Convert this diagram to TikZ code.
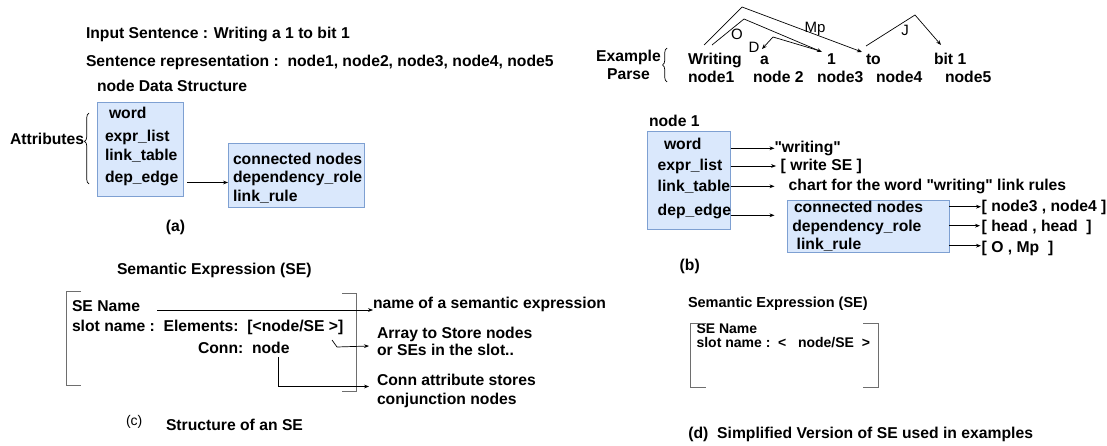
\documentclass[tikz,border=0pt]{standalone}
\usepackage{fontspec}
\setmainfont{Liberation Sans}[Ligatures=TeXOff]
\usetikzlibrary{arrows.meta,decorations.pathreplacing,calc}
\definecolor{boxfill}{HTML}{DAE8FC}
\definecolor{boxline}{HTML}{7EA0D2}
\definecolor{brk}{HTML}{6E6E6E}
\begin{document}
\begin{tikzpicture}[x=1pt,y=-1pt,
  txt/.style={inner sep=0pt, outer sep=0pt, anchor=base west, font=\fontsize{15.7}{18}\selectfont\bfseries},
  reg/.style={inner sep=0pt, outer sep=0pt, anchor=center, font=\fontsize{15}{18}\selectfont},
  box/.style={draw=boxline, fill=boxfill, line width=0.9pt, anchor=north west, inner sep=0pt, outer sep=0pt},
  arr/.style={line width=0.7pt, -{Stealth[length=5pt,width=3.8pt]}},
  brk/.style={draw=brk, line width=0.9pt},
  curly/.style={decorate, decoration={brace, amplitude=4.5pt, aspect=#1}, line width=0.7pt},
  small/.style={font=\fontsize{14}{16}\selectfont\bfseries},
]
\fill[white] (0,0) rectangle (1107,446);
\useasboundingbox (0,0) rectangle (1107,446);

% ---------- (a) node data structure ----------
\node[txt] (inSent) at (86,38.5) {Input Sentence : Writing a 1 to bit 1};
\node[txt] (repSent) at (86,66.5) {Sentence representation :\ \ node1, node2, node3, node4, node5};
\node[txt] (nds) at (97,92) {node Data Structure};

\node[box, minimum width=86pt, minimum height=94pt] (boxA) at (97,102) {};
\node[txt] (wordA) at (109,118.5) {word};
\node[txt] (exprA) at (105,142) {expr\_list};
\node[txt] (linkA) at (105,161) {link\_table};
\node[txt] (depA)  at (105,183) {dep\_edge};

\node[box, minimum width=136pt, minimum height=64pt] (boxA2) at (228,143) {};
\node[txt] (connA) at (233,165) {connected nodes};
\node[txt] (roleA) at (233,183) {dependency\_role};
\node[txt] (ruleA) at (233,201.5) {link\_rule};

\coordinate (aStart) at (187,182.5);
\draw[arr] (aStart) -- (boxA2.west |- aStart);

\node[txt] (attr) at (10,145) {Attributes};
\draw[curly=0.6] (89,184) -- (89,113);
\node[txt, anchor=base] (capA) at (175.5,232) {(a)};

% ---------- example parse ----------
\node[txt, anchor=base] (ex1) at (628.5,62) {Example};
\node[txt, anchor=base] (ex2) at (628.5,80) {Parse};
\draw[curly=0.5] (667,82) -- (667,48);

\node[txt] (wWriting) at (688,64.5) {Writing};
\node[txt] (wA)       at (760,64.5) {a};
\node[txt] (wOne)     at (827,64.5) {1};
\node[txt] (wTo)      at (866,64.5) {to};
\node[txt] (wBit)     at (934,64.5) {bit 1};
\node[txt] (n1) at (688,82.5) {node1};
\node[txt] (n2) at (753,82.5) {node 2};
\node[txt] (n3) at (817,82.5) {node3};
\node[txt] (n4) at (876,82.5) {node4};
\node[txt] (n5) at (945,82.5) {node5};

\coordinate (mpA) at (704,45);
\coordinate (mpT) at (862,52);
\draw[arr] (mpA) -- (742,7) -- (mpT);
\coordinate (oA) at (712,45);
\coordinate (oT) at (822,52);
\draw[arr] (oA) -- (744,19) -- (oT);
\coordinate (dA) at (820,51);
\coordinate (dT) at (762,49);
\draw[arr] (dA) -- (773,37) -- (dT);
\coordinate (jA) at (866,46);
\coordinate (jT) at (941,45);
\draw[arr] (jA) -- (915,15) -- (jT);
\node[reg] (lblO)  at (737,34) {O};
\node[reg] (lblD)  at (754,47) {D};
\node[reg] (lblMp) at (815,29) {Mp};
\node[reg] (lblJ)  at (905,30) {J};

% ---------- (b) node 1 ----------
\node[txt] (nodeOne) at (649,127) {node 1};
\node[box, minimum width=83.4pt, minimum height=97.6pt] (boxB) at (647.3,131.7) {};
\node[txt] (wordB) at (664,150) {word};
\node[txt] (exprB) at (657.7,171) {expr\_list};
\node[txt] (linkB) at (657.7,191.5) {link\_table};
\node[txt] (depB)  at (657.7,215.5) {dep\_edge};

\node[txt] (valWord) at (774.5,152.3) {"writing"};
\node[txt] (valExpr) at (780.7,171) {[ write SE ]};
\node[txt] (valLink) at (788.7,190.5) {chart for the word "writing" link rules};

\coordinate (bw) at (774.5,148.3);
\coordinate (be) at (776,166);
\coordinate (bl) at (774.5,186.3);
\coordinate (bd) at (774.5,215.3);
\draw[arr] (boxB.east |- bw) -- (bw);
\draw[arr] (boxB.east |- be) -- (be);
\draw[arr] (boxB.east |- bl) -- (bl);
\draw[arr] (boxB.east |- bd) -- (bd);

\node[box, minimum width=162pt, minimum height=52.7pt] (boxB2) at (787.3,200) {};
\node[txt] (connB) at (794,212.5) {connected nodes};
\node[txt] (roleB) at (792.3,232) {dependency\_role};
\node[txt] (ruleB) at (796.7,250) {link\_rule};

\node[txt] (valConn) at (981.7,212) {[ node3 , node4 ]};
\node[txt] (valRole) at (981.7,231.5) {[ head , head\ \ ]};
\node[txt] (valRule) at (981.7,252) {[ O , Mp\ \ ]};
\coordinate (rc) at (981,206.7);
\coordinate (rr) at (980,225.7);
\coordinate (ru) at (981,245.7);
\draw[arr] (boxB2.east |- rc) -- (rc);
\draw[arr] (boxB2.east |- rr) -- (rr);
\draw[arr] (boxB2.east |- ru) -- (ru);

\node[txt, anchor=base] (capB) at (689.7,270) {(b)};

% ---------- (c) structure of an SE ----------
\node[txt] (seC) at (117,274.5) {Semantic Expression (SE)};
\draw[brk] (81,291) -- (66,291) -- (66,385) -- (81,385);
\draw[brk] (342,293) -- (356,293) -- (356,391) -- (342,391);
\node[txt] (nameC) at (72,311.5) {SE Name};
\node[txt] (slotC) at (72,331) {slot name :\ \ Elements:\ \ [<node/SE >]};
\node[txt] (connC) at (198,353.5) {Conn:\ \ node};

\node[txt] (dName) at (373,308.5) {name of a semantic expression};
\node[txt] (dArr1) at (377,338) {Array to Store nodes};
\node[txt] (dArr2) at (377,355.5) {or SEs in the slot..};
\node[txt] (dCon1) at (377,385) {Conn attribute stores};
\node[txt] (dCon2) at (377,404) {conjunction nodes};

\coordinate (seS) at (157,310);
\draw[arr] (seS) -- (dName.west |- seS);
\coordinate (elS) at (332,340);
\draw[arr] (elS) -- (337,347) -- (369,346);
\coordinate (cnS) at (278,357);
\draw[arr] (cnS) -- (278,386.5) -- (369,386.5);

\node[reg, anchor=base west, font=\fontsize{14}{16}\selectfont] (capC1) at (126,425) {(c)};
\node[txt] (capC2) at (166,430.5) {Structure of an SE};

% ---------- (d) simplified SE ----------
\node[txt, anchor=base west, font=\fontsize{14.5}{17}\selectfont\bfseries] (seD) at (688,307) {Semantic Expression (SE)};
\node[txt, anchor=base east, small] (slotD) at (870,347.5) {slot name :\ \ <\ \ \ node/SE\ \ >};
\node[txt, small] (nameD) at ($(slotD.base west)+(0,-14)$) {SE Name};
\coordinate (topD) at (0,323.3);
\coordinate (botD) at (0,387.7);
\draw[brk] ($(slotD.west |- topD)+(9,0)$) -- ($(slotD.west |- topD)+(-6,0)$) -- ($(slotD.west |- botD)+(-6,0)$) -- ($(slotD.west |- botD)+(9,0)$);
\draw[brk] (863,323.3) -- (878,323.3) -- (878,387.7) -- (863,387.7);
\node[txt, anchor=base east] (capD) at (1033,438.5) {(d)\ \ Simplified Version of SE used in examples};
\end{tikzpicture}
\end{document}
